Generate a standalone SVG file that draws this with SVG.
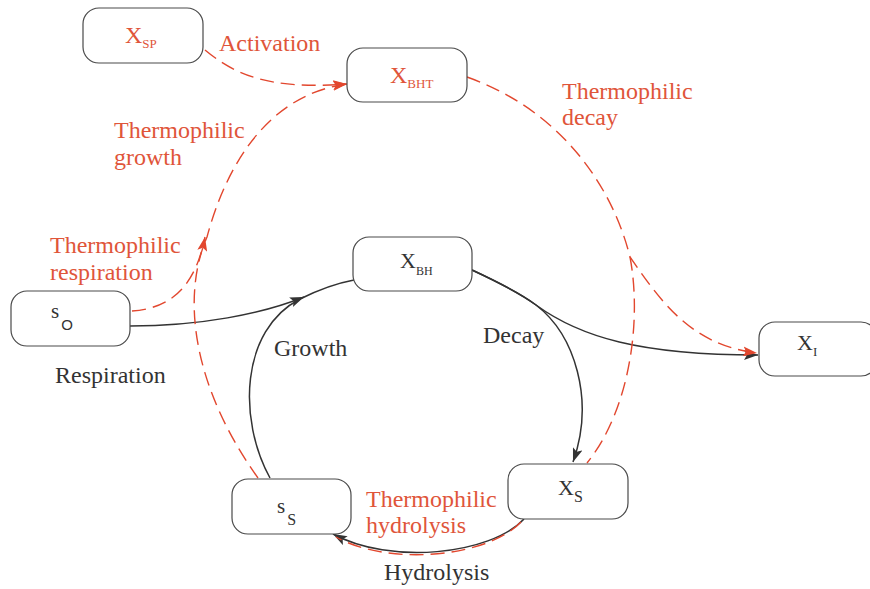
<svg xmlns="http://www.w3.org/2000/svg" width="870" height="589" viewBox="0 0 870 589">
<defs>
<style>
.node{fill:#fff;stroke:#4a4a4a;stroke-width:1.2}
.t{font-family:"Liberation Serif","Times New Roman",serif}
.lbl{font-size:24px}
.red{fill:#e0553a}
.dark{fill:#333}
.bl{fill:none;stroke:#333;stroke-width:1.5}
.rd{fill:none;stroke:#e2472e;stroke-width:1.4;stroke-dasharray:14,7}
</style>
<marker id="ab" markerWidth="15" markerHeight="10" refX="14" refY="5" orient="auto" markerUnits="userSpaceOnUse"><path d="M0,0 L14,5 L0,10 L3,5 z" fill="#333"/></marker>
<marker id="ar" markerWidth="15" markerHeight="10" refX="14" refY="5" orient="auto" markerUnits="userSpaceOnUse"><path d="M0,0 L14,5 L0,10 L3,5 z" fill="#e2472e"/></marker>
</defs>
<rect width="870" height="589" fill="#fff"/>
<g id="connectors">
<path class="bl" d="M270,478 C238,420 240,330 300,299 C320,289 338,283 354,280"/>
<path class="bl" d="M130,326 C200,326 262,314 304,297" marker-end="url(#ab)"/>
<path class="bl" d="M472,270 C500,283 520,293 536,305 C575,335 595,400 573,462" marker-end="url(#ab)"/>
<path class="bl" d="M472,270 C500,283 520,293 536,305 C580,337 640,355 758,355" marker-end="url(#ab)"/>
<path class="bl" d="M524,519 C490,555 390,565 333,534" marker-end="url(#ab)"/>
<path class="rd" d="M205,50 C235,75 270,90 347,84" marker-end="url(#ar)"/>
<path class="rd" d="M258,478 C195,390 180,300 207,237 C225,170 265,95 347,84" marker-end="url(#ar)"/>
<path class="rd" d="M132,311 C175,308 196,282 205,237" marker-end="url(#ar)"/>
<path class="rd" d="M467,77 C560,110 612,185 630,257 C660,300 690,345 757,353" marker-end="url(#ar)"/>
<path class="rd" d="M630,257 C642,320 630,410 587,463"/>
<path class="rd" d="M521,522 C488,557 390,567 336,537"/>
</g>
<g id="n-xsp"><rect class="node" x="83" y="8" width="120" height="55" rx="16"/><text class="t red" x="125" y="43" font-size="24">X<tspan font-size="13" dy="5">SP</tspan></text></g>
<g id="n-xbht"><rect class="node" x="347" y="48" width="120" height="54" rx="16"/><text class="t red" x="390" y="83" font-size="24">X<tspan font-size="13" dy="5">BHT</tspan></text></g>
<g id="n-xbh"><rect class="node" x="353" y="237" width="119" height="54" rx="16"/><text class="t dark" x="400" y="268" font-size="22">X<tspan font-size="12" dy="7">BH</tspan></text></g>
<g id="n-so"><rect class="node" x="11" y="291" width="119" height="55" rx="16"/><text class="t dark" x="51" y="318" font-size="21">s<tspan font-family="Liberation Sans,sans-serif" font-size="15" dx="2" dy="12">O</tspan></text></g>
<g id="n-xi"><rect class="node" x="759" y="322" width="118" height="54" rx="16"/><text class="t dark" x="797" y="350" font-size="22">X<tspan font-size="13" dy="6">I</tspan></text></g>
<g id="n-xs"><rect class="node" x="508" y="464" width="120" height="55" rx="16"/><text class="t dark" x="558" y="495" font-size="22">X<tspan font-size="16" dy="7">S</tspan></text></g>
<g id="n-ss"><rect class="node" x="232" y="479" width="119" height="55" rx="16"/><text class="t dark" x="277" y="513" font-size="21">s<tspan font-size="16" dx="2" dy="12">S</tspan></text></g>
<g id="labels">
<text class="t lbl red" x="219" y="51">Activation</text>
<text class="t lbl red" x="562" y="99">Thermophilic</text>
<text class="t lbl red" x="562" y="125">decay</text>
<text class="t lbl red" x="114" y="138">Thermophilic</text>
<text class="t lbl red" x="114" y="165">growth</text>
<text class="t lbl red" x="50" y="253">Thermophilic</text>
<text class="t lbl red" x="50" y="280">respiration</text>
<text class="t lbl dark" x="55" y="383">Respiration</text>
<text class="t lbl dark" x="274" y="356">Growth</text>
<text class="t lbl dark" x="483" y="343">Decay</text>
<text class="t lbl red" x="366" y="507">Thermophilic</text>
<text class="t lbl red" x="366" y="533">hydrolysis</text>
<text class="t lbl dark" x="384" y="580">Hydrolysis</text>
</g>
</svg>
